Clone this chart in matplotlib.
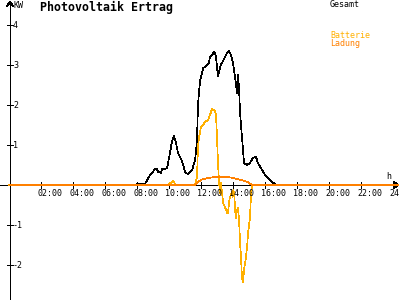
import matplotlib
matplotlib.use("Agg")
import matplotlib.pyplot as plt

# ---- data (hours, kW) ----
gesamt_t = [0.0, 7.9, 8.00, 8.50, 8.81, 8.94, 9.13, 9.25, 9.31, 9.50, 9.56, 9.75, 9.88,
            10.06, 10.19, 10.31, 10.44, 10.56, 10.75, 10.88, 11.00, 11.19, 11.44, 11.63,
            11.75, 11.81, 11.94, 12.13, 12.38, 12.50, 12.56, 12.69, 12.81, 12.88, 12.94,
            13.06, 13.25, 13.38, 13.63, 13.75, 13.88, 14.00, 14.13, 14.25, 14.31, 14.38,
            14.44, 14.56, 14.69, 14.88, 15.06, 15.25, 15.44, 15.56, 15.81, 16.00, 16.31,
            16.63, 16.81]
gesamt_v = [0.0, 0.0, 0.025, 0.025, 0.25, 0.3, 0.4, 0.4, 0.33, 0.3, 0.4, 0.4, 0.42,
            0.8, 1.1, 1.22, 1.05, 0.8, 0.65, 0.52, 0.32, 0.27, 0.37, 0.62,
            1.1, 2.0, 2.6, 2.92, 3.0, 3.05, 3.2, 3.25, 3.32, 3.3, 3.18,
            2.73, 3.02, 3.1, 3.3, 3.35, 3.25, 3.05, 2.7, 2.3, 2.75, 2.4,
            1.8, 1.2, 0.55, 0.5, 0.55, 0.68, 0.7, 0.55, 0.38, 0.25, 0.12,
            0.02, 0.0]

batterie_t = [0.0, 9.94, 10.25, 10.44, 11.63, 11.75, 11.81, 11.88, 12.00, 12.13, 12.25,
              12.44, 12.56, 12.69, 12.75, 12.88, 12.94, 13.00, 13.06, 13.13, 13.19, 13.25,
              13.38, 13.50, 13.63, 13.69, 13.75, 13.81, 13.94, 13.97, 14.03, 14.09, 14.13,
              14.19, 14.25, 14.31, 14.38, 14.44, 14.50, 14.56, 14.63, 14.69, 14.81, 14.88,
              14.94, 15.06, 15.13, 15.19, 24.0]
batterie_v = [0.0, 0.0, 0.1, 0.0, 0.0, 0.2, 0.95, 1.2, 1.45, 1.5, 1.58,
              1.62, 1.75, 1.9, 1.88, 1.85, 1.75, 1.2, 0.55, 0.05, -0.2, 0.05,
              -0.45, -0.55, -0.7, -0.7, -0.45, -0.3, -0.18, -0.3, -0.12, -0.3, -0.62,
              -0.82, -0.62, -0.58, -0.88, -1.45, -1.8, -2.32, -2.42, -2.12, -1.8, -1.55,
              -1.2, -0.82, -0.2, 0.0, 0.0]

ladung_t = [0.06, 11.63, 11.81, 12.13, 12.56, 12.88, 13.19, 13.63, 14.00, 14.44, 14.88,
            15.19, 24.3]
ladung_v = [0.0, 0.0, 0.08, 0.15, 0.18, 0.2, 0.2, 0.2, 0.18, 0.13, 0.08, 0.0, 0.0]

y_ticks = [4, 3, 2, 1, -1, -2]
x_ticks = [2, 4, 6, 8, 10, 12, 14, 16, 18, 20, 22, 24]
x_labels = ["02:00", "04:00", "06:00", "08:00", "10:00", "12:00", "14:00", "16:00",
            "18:00", "20:00", "22:00", "24:00"]

# ---- figure ----
PXH = 16.0   # px per hour
PXK = 40.0   # px per kW
LW = 0.72
SLW = 0.5
fig = plt.figure(figsize=(4, 3), dpi=100)
ax = fig.add_axes([0, 0, 1, 1])
ax.set_xlim(-9 / PXH, 391 / PXH)
ax.set_ylim(-115 / PXK, 185 / PXK)
ax.axis("off")

mono = "DejaVu Sans Mono"
px_h = 1 / PXH
px_k = 1 / PXK

# axes lines
ax.plot([-9 * px_h, 389 * px_h], [0, 0], color="black", lw=LW, antialiased=False)
ax.plot([389 * px_h - 4 * px_h, 389 * px_h, 389 * px_h - 4 * px_h],
        [3 * px_k, 0, -3 * px_k], color="black", lw=LW, antialiased=False)
x0 = 1 * px_h
ax.plot([x0, x0], [-115 * px_k, 183 * px_k], color="black", lw=LW, antialiased=False)
ax.plot([x0 - 3 * px_h, x0, x0 + 3 * px_h], [179 * px_k, 183 * px_k, 179 * px_k],
        color="black", lw=LW, antialiased=False)

for v in y_ticks:
    ax.plot([x0 - 3 * px_h, x0 + 3 * px_h], [v, v], color="black", lw=LW, antialiased=False)
    ax.text(x0 + 3 * px_h, v, str(v), fontsize=6, family=mono, ha="left", va="center")

for t, lab in zip(x_ticks, x_labels):
    ax.plot([t, t], [-3 * px_k, 3 * px_k], color="black", lw=LW, antialiased=False)
    ax.text(t - 3.5 * px_h, -8 * px_k, lab, fontsize=6, family=mono, ha="left", va="center")

# series
ax.plot(gesamt_t, gesamt_v, color="black", lw=SLW, antialiased=False)
ax.plot(batterie_t, batterie_v, color="#FFB000", lw=SLW, antialiased=False)
ax.plot(ladung_t, ladung_v, color="#FF8000", lw=SLW, antialiased=False)

# texts
ax.text(x0 + 4 * px_h, 180 * px_k, "KW", fontsize=6, family=mono, ha="left", va="center")
ax.text(377 * px_h, 8.5 * px_k, "h", fontsize=6, family=mono, ha="left", va="center")
ax.text(31 * px_h, 178 * px_k, "Photovoltaik Ertrag", fontsize=8.4, family=mono,
        weight="bold", ha="left", va="center")
ax.text(321 * px_h, 180.5 * px_k, "Gesamt", fontsize=6, family=mono, ha="left", va="center")
ax.text(321 * px_h, 149 * px_k, "Batterie", fontsize=6, family=mono, color="#FFB000",
        ha="left", va="center")
ax.text(321 * px_h, 141 * px_k, "Ladung", fontsize=6, family=mono, color="#FF8000",
        ha="left", va="center")

fig.savefig("out.png", dpi=100, facecolor="white")
